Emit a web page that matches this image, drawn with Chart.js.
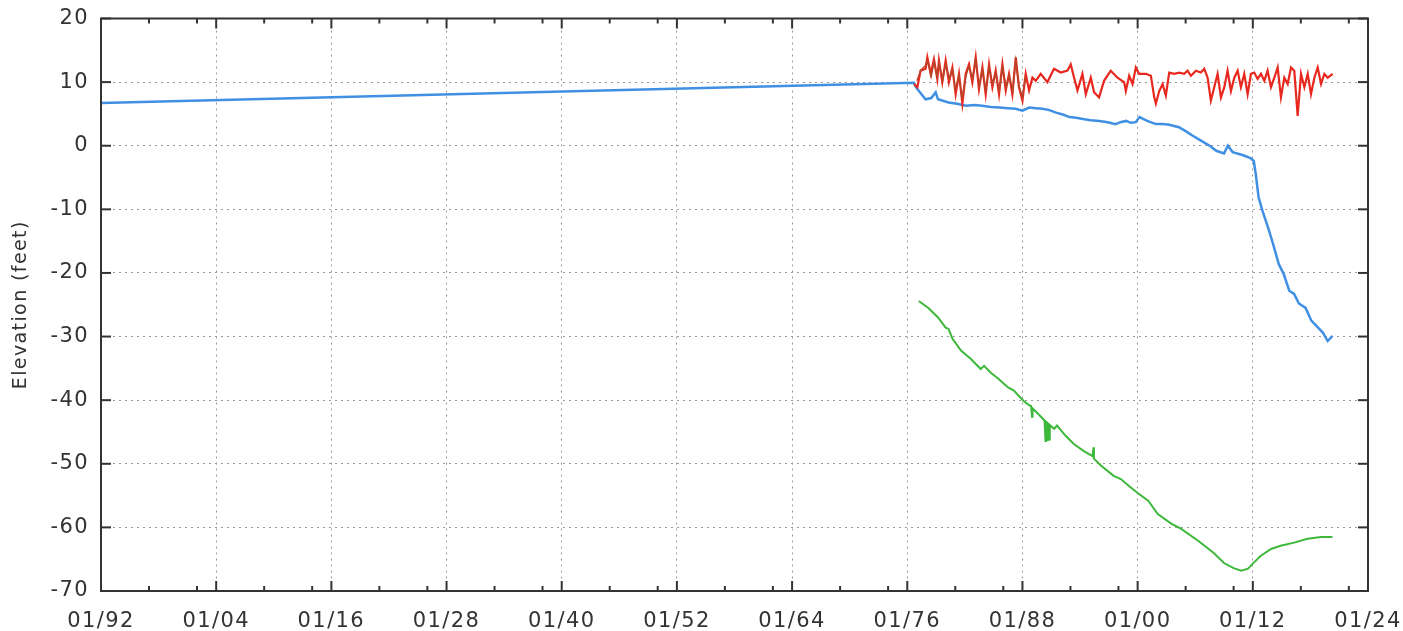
<!DOCTYPE html>
<html>
<head>
<meta charset="utf-8">
<title>Elevation (feet)</title>
<script src="https://cdn.jsdelivr.net/npm/chart.js@4"></script>
<style>
    html, body { margin: 0; padding: 0; background: #fff; }
    #wrap { width: 1403px; height: 631px; }
</style>
</head>
<body>
<div id="wrap"><canvas id="chart" width="1403" height="631"></canvas></div>
<script>
// Axis ticks
const xTickYears = [1892, 1904, 1916, 1928, 1940, 1952, 1964, 1976, 1988, 2000, 2012, 2024];
const xMinorOffsets = [5, 10];
const yTickValues = [-70, -60, -50, -40, -30, -20, -10, 0, 10, 20];

// Blue series
const blueYears = [1892, 1976.7, 1976.9, 1977.9, 1978.5, 1978.96, 1979.2, 1980.3, 1981.2, 1982.1,
    1983.0, 1983.8, 1984.7, 1985.6, 1986.5, 1987.3, 1988.0, 1988.7, 1989.4, 1990.1,
    1990.8, 1991.5, 1992.2, 1992.9, 1993.6, 1994.3, 1995.1, 1996.0, 1996.9, 1997.7,
    1998.2, 1998.8, 1999.3, 1999.8, 2000.2, 2001.0, 2001.9, 2002.6, 2003.3, 2004.3,
    2005.0, 2005.7, 2006.6, 2007.5, 2008.2, 2009.0, 2009.4, 2009.9, 2011.0, 2011.8,
    2012.1, 2012.3, 2012.6, 2013.0, 2013.6, 2014.1, 2014.7, 2015.2, 2015.8, 2016.3,
    2016.8, 2017.5, 2018.1, 2018.8, 2019.3, 2019.8, 2020.3];
const blueValues = [6.7, 9.9, 9.2, 7.3, 7.5, 8.4, 7.3, 6.8, 6.6, 6.3,
    6.4, 6.3, 6.1, 6.0, 5.9, 5.8, 5.5, 6.0, 5.9, 5.8,
    5.6, 5.2, 4.9, 4.5, 4.4, 4.2, 4.0, 3.9, 3.7, 3.4,
    3.7, 3.9, 3.6, 3.7, 4.5, 3.9, 3.4, 3.4, 3.3, 2.9,
    2.3, 1.6, 0.8, 0.0, -0.8, -1.2, 0.0, -1.0, -1.5, -2.0,
    -2.4, -4.4, -8.1, -10.2, -12.9, -15.4, -18.6, -20.1, -22.8, -23.3,
    -24.8, -25.5, -27.5, -28.6, -29.4, -30.7, -29.9];

// Red series
const redYears = [1976.69, 1977.05, 1977.39, 1977.91, 1978.09, 1978.44, 1978.78, 1979.13, 1979.30, 1979.65,
    1980.00, 1980.34, 1980.70, 1981.04, 1981.39, 1981.74, 1982.09, 1982.43, 1982.78, 1983.13,
    1983.47, 1983.83, 1984.17, 1984.52, 1984.87, 1985.21, 1985.56, 1985.91, 1986.26, 1986.60,
    1986.95, 1987.30, 1987.64, 1988.00, 1988.34, 1988.69, 1989.04, 1989.38, 1989.90, 1990.60,
    1991.29, 1991.99, 1992.69, 1993.03, 1993.38, 1993.73, 1994.25, 1994.60, 1995.12, 1995.46,
    1995.98, 1996.50, 1997.20, 1997.90, 1998.59, 1998.77, 1999.12, 1999.47, 1999.81, 2000.16,
    2000.86, 2001.38, 2001.73, 2001.90, 2002.25, 2002.60, 2002.94, 2003.29, 2003.81, 2004.33,
    2004.85, 2005.20, 2005.55, 2006.07, 2006.59, 2006.94, 2007.29, 2007.63, 2007.98, 2008.33,
    2008.68, 2009.03, 2009.37, 2009.72, 2010.07, 2010.42, 2010.76, 2011.11, 2011.46, 2011.81,
    2012.15, 2012.50, 2012.85, 2013.20, 2013.54, 2013.89, 2014.24, 2014.59, 2014.93, 2015.28,
    2015.63, 2015.98, 2016.32, 2016.67, 2017.02, 2017.37, 2017.72, 2018.06, 2018.41, 2018.76,
    2019.11, 2019.45, 2019.80, 2020.32];
const redValues = [9.7, 9.2, 11.8, 12.1, 13.9, 11.3, 13.6, 10.5, 13.4, 10.0,
    13.4, 10.0, 12.3, 8.1, 11.3, 6.6, 11.3, 12.8, 10.0, 13.9,
    8.9, 12.3, 8.1, 12.8, 9.2, 11.8, 8.1, 12.8, 8.7, 11.3,
    8.1, 13.9, 9.2, 7.1, 11.3, 8.7, 10.7, 10.2, 11.3, 10.0,
    12.1, 11.5, 11.8, 12.8, 10.7, 8.7, 11.3, 8.1, 10.7, 8.4,
    7.6, 10.2, 11.8, 10.7, 10.0, 8.6, 11.0, 9.7, 12.3, 11.3,
    11.3, 11.0, 7.6, 6.6, 8.6, 9.7, 7.9, 11.5, 11.3, 11.5,
    11.3, 11.8, 11.0, 11.8, 11.5, 12.1, 10.7, 7.1, 9.2, 11.3,
    7.6, 9.2, 11.8, 8.6, 10.7, 11.8, 9.2, 11.3, 8.1, 11.3,
    11.5, 10.5, 11.3, 10.2, 11.8, 9.2, 10.7, 12.3, 7.6, 10.7,
    9.7, 12.3, 11.8, 4.7, 11.3, 9.2, 11.3, 8.1, 10.7, 12.3,
    9.7, 11.3, 10.7, 11.3];

// Dark red series (overlaps the red one in the early years)
const darkYears = [1977.0, 1977.4, 1977.9, 1978.1, 1978.5, 1978.8, 1979.1, 1979.3, 1979.7, 1980.0,
    1980.4, 1980.7, 1981.0, 1981.4, 1981.7, 1982.1, 1982.4, 1982.8, 1983.1, 1983.5,
    1983.8, 1984.2, 1984.5, 1984.9, 1985.2, 1985.6, 1985.9, 1986.3, 1986.6, 1987.0,
    1987.3, 1987.6, 1988.0, 1988.3];
const darkValues = [10.2, 11.9, 12.6, 13.4, 10.9, 13.2, 10.9, 12.9, 10.4, 12.8,
    10.6, 12.0, 8.9, 11.0, 7.5, 10.9, 12.4, 10.5, 13.5, 9.4,
    11.9, 8.7, 12.4, 9.7, 11.4, 8.7, 12.4, 9.2, 11.0, 8.6,
    13.4, 9.6, 7.6, 10.9];

// Green series
const greenYears = [1977.2, 1978.2, 1979.2, 1980.0, 1980.3, 1980.7, 1981.6, 1982.6, 1983.65, 1984.0,
    1984.7, 1985.4, 1986.5, 1987.1, 1988.1, 1988.7, 1988.9, 1989.0, 1989.05, 1989.6,
    1990.3, 1990.4, 1990.45, 1990.6, 1990.65, 1990.7, 1990.8, 1990.85, 1991.3, 1991.6,
    1992.5, 1993.35, 1994.4, 1995.3, 1995.4, 1995.45, 1996.2, 1997.5, 1998.25, 1999.1,
    2000.0, 2001.1, 2002.1, 2003.5, 2004.5, 2006.3, 2007.9, 2009.0, 2010.0, 2010.8,
    2011.5, 2012.0, 2012.8, 2013.9, 2014.9, 2016.3, 2017.7, 2019.1, 2020.3];
const greenValues = [-24.4, -25.5, -27.0, -28.6, -28.8, -30.3, -32.2, -33.5, -35.1, -34.6,
    -35.7, -36.5, -38.0, -38.5, -40.1, -40.8, -40.9, -42.6, -41.3, -42.1,
    -43.2, -46.4, -43.4, -43.6, -46.4, -43.7, -46.2, -43.9, -44.5, -44.0,
    -45.6, -46.9, -48.0, -48.8, -47.4, -49.2, -50.3, -51.9, -52.4, -53.5,
    -54.6, -55.8, -57.9, -59.4, -60.2, -62.1, -64.0, -65.6, -66.4, -66.8,
    -66.5, -65.7, -64.5, -63.4, -62.9, -62.4, -61.8, -61.5, -61.5];

const fontFamily = '"DejaVu Sans", Verdana, sans-serif';
const textColor = '#333';

function toPoints(xs, ys) {
    return xs.map((x, i) => ({ x: x, y: ys[i] }));
}

function lineDataset(xs, ys, color, width) {
    return {
        data: toPoints(xs, ys),
        borderColor: color,
        borderWidth: width,
        pointRadius: 0,
        tension: 0,
        fill: false
    };
}

// the reference text is set a little wider than DejaVu
const wideText = {
    id: 'wideText',
    beforeInit(chart) {
        chart.ctx.letterSpacing = '1.4px';
    },
    beforeDraw(chart) {
        chart.ctx.letterSpacing = '1.4px';
    }
};

// gnuplot-like frame with inward ticks
const frameTicks = {
    id: 'frameTicks',
    afterDatasetsDraw(chart) {
        const { ctx, chartArea: a, scales: { x, y } } = chart;
        ctx.save();
        ctx.strokeStyle = '#333';
        ctx.lineWidth = 2;
        ctx.strokeRect(a.left, a.top, a.right - a.left, a.bottom - a.top);

        const seg = (x1, y1, x2, y2) => {
            ctx.beginPath();
            ctx.moveTo(x1, y1);
            ctx.lineTo(x2, y2);
            ctx.stroke();
        };

        xTickYears.forEach(v => {
            const px = x.getPixelForValue(v);
            seg(px, a.bottom, px, a.bottom - 10);
            seg(px, a.top, px, a.top + 10);
            xMinorOffsets.forEach(off => {
                if (v + off <= x.max) {
                    const mx = x.getPixelForValue(v + off);
                    seg(mx, a.bottom, mx, a.bottom - 5);
                    seg(mx, a.top, mx, a.top + 5);
                }
            });
        });
        yTickValues.forEach(v => {
            const py = y.getPixelForValue(v);
            seg(a.left, py, a.left + 10, py);
            seg(a.right, py, a.right - 10, py);
        });
        ctx.restore();
    }
};

const ctx = document.getElementById('chart').getContext('2d');
new Chart(ctx, {
    type: 'line',
    data: {
        datasets: [
            lineDataset(darkYears, darkValues, '#b4462a', 1.3),
            lineDataset(redYears, redValues, '#e8281e', 2.2),
            lineDataset(blueYears, blueValues, '#3f8fe3', 2.5),
            lineDataset(greenYears, greenValues, '#3db83a', 2)
        ]
    },
    options: {
        responsive: false,
        animation: false,
        layout: { padding: { top: 18.5, right: 35, left: 0, bottom: 0 } },
        plugins: {
            legend: { display: false },
            tooltip: { enabled: false }
        },
        scales: {
            x: {
                type: 'linear',
                min: 1892,
                max: 2024,
                afterBuildTicks: s => { s.ticks = xTickYears.map(v => ({ value: v })); },
                afterFit: s => {
                    s.height = 40;
                    s.paddingLeft = 0;
                    s.paddingRight = 0;
                },
                ticks: {
                    autoSkip: false,
                    maxRotation: 0,
                    padding: 18,
                    color: textColor,
                    font: { family: fontFamily, size: 21 },
                    callback: v => '01/' + String(v % 100).padStart(2, '0')
                },
                grid: { color: '#9a9a9a', lineWidth: 1, drawTicks: false },
                border: { display: false, dash: [2, 4] }
            },
            y: {
                min: -70,
                max: 20,
                afterBuildTicks: s => { s.ticks = yTickValues.map(v => ({ value: v })); },
                afterFit: s => {
                    s.width = 101;
                    s.paddingTop = 0;
                    s.paddingBottom = 0;
                },
                ticks: {
                    padding: 12,
                    color: textColor,
                    font: { family: fontFamily, size: 21 }
                },
                grid: { color: '#9a9a9a', lineWidth: 1, drawTicks: false },
                border: { display: false, dash: [2, 4] },
                title: {
                    display: true,
                    text: 'Elevation (feet)',
                    color: textColor,
                    font: { family: fontFamily, size: 19 },
                    padding: { top: 10, bottom: 0 }
                }
            }
        }
    },
    plugins: [wideText, frameTicks]
});
</script>
</body>
</html>
